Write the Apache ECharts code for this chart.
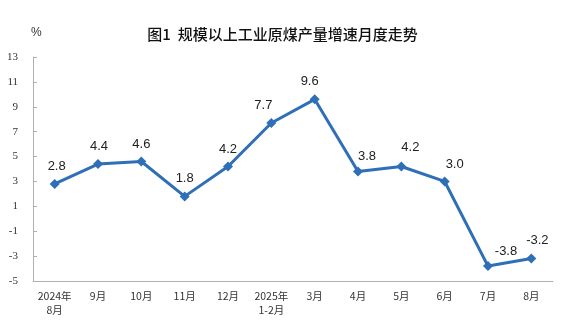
<!DOCTYPE html>
<html><head><meta charset="utf-8">
<script src="https://cdn.jsdelivr.net/npm/echarts@6/dist/echarts.min.js"></script>
<style>html,body{margin:0;padding:0;background:#fff}#c{width:565px;height:333px}</style>
</head><body><div id="c"></div>
<script>
const categories = ['2024年\n8月','9月','10月','11月','12月','2025年\n1-2月','3月','4月','5月','6月','7月','8月'];
const growth = [2.8, 4.4, 4.6, 1.8, 4.2, 7.7, 9.6, 3.8, 4.2, 3.0, -3.8, -3.2];
const yTicks = [-5, -3, -1, 1, 3, 5, 7, 9, 11, 13];
const labelShift = [[2,0],[1,0],[0,0],[0,0],[0,0],[-8,0],[-5,0],[9,2],[9,-2],[10,0],[18,3],[6,-1]];

const chart = echarts.init(document.getElementById('c'));
chart.setOption({
  animation: false,
  backgroundColor: '#fff',
  title: {
    text: '图1  规模以上工业原煤产量增速月度走势',
    left: 'center', top: 22,
    textStyle: {fontFamily: 'Noto Sans CJK SC', fontSize: 15, fontWeight: 500, color: '#111'}
  },
  graphic: [{type: 'text', left: 31, top: 27, style: {text: '%', font: '12px "Liberation Sans"', fill: '#333'}}],
  grid: {left: 33, right: 12, top: 57, bottom: 52},
  xAxis: {
    type: 'category', data: categories, boundaryGap: true,
    axisLine: {onZero: false, lineStyle: {color: '#b0b0b0'}},
    axisTick: {inside: true, length: 4, alignWithLabel: false, lineStyle: {color: '#b0b0b0'}},
    axisLabel: {interval: 0, margin: 8, fontFamily: 'Noto Sans CJK SC', fontSize: 10.5, color: '#333', lineHeight: 14}
  },
  yAxis: {
    type: 'value', min: yTicks[0], max: yTicks[yTicks.length-1], interval: 2,
    splitLine: {show: false},
    axisLine: {show: true, lineStyle: {color: '#b0b0b0'}},
    axisTick: {show: true, inside: true, length: 4, lineStyle: {color: '#b0b0b0'}},
    axisLabel: {margin: 15, fontFamily: 'Liberation Serif', fontSize: 11, color: '#333'}
  },
  series: [{
    type: 'line',
    data: growth.map((v, i) => ({value: v, label: {offset: labelShift[i]}})),
    symbol: 'diamond', symbolSize: 10,
    lineStyle: {color: '#2E6FB7', width: 3},
    itemStyle: {color: '#2E6FB7'},
    label: {show: true, position: 'top', distance: 6, fontFamily: 'Liberation Sans', fontSize: 13, color: '#222',
      formatter: p => p.value.toFixed(1)}
  }]
});
</script></body></html>
